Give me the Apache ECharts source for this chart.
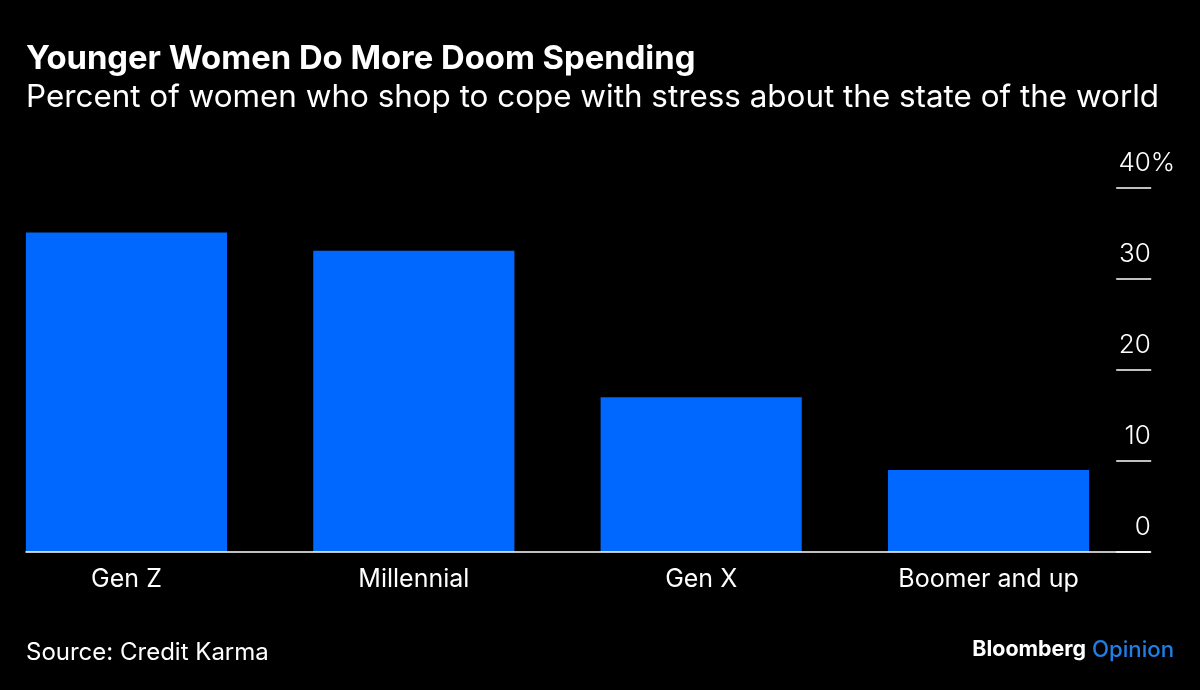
<!DOCTYPE html>
<html><head><meta charset="utf-8">
<style>html,body{margin:0;padding:0;background:#000}#c{width:1200px;height:690px}</style>
<script src="https://cdn.jsdelivr.net/npm/echarts@6/dist/echarts.min.js"></script></head>
<body><div id="c"></div>
<script>
const categories=['Gen Z','Millennial','Gen X','Boomer and up'];
const values=[35.1,33.1,17,9];
const tickValues=[0,10,20,30,40];
const titleText='Younger Women Do More Doom Spending';
const subtitleText='Percent of women who shop to cope with stress about the state of the world';
const sourceText='Source: Credit Karma';
const font='Inter, "Liberation Sans", sans-serif';
const chart=echarts.init(document.getElementById('c'),null,{renderer:'canvas'});
chart.setOption({
 backgroundColor:'#000',animation:false,
 grid:[
  {left:-17.2,width:1149.4,top:188,bottom:138,outerBoundsMode:'none'},
  {left:26,right:50,top:188,bottom:138}
 ],
 xAxis:[
  {type:'category',data:categories,gridIndex:0,axisLine:{show:false},axisTick:{show:false},
   axisLabel:{color:'#fff',fontFamily:font,fontSize:25,margin:15}},
  {type:'value',gridIndex:1,min:0,max:1,position:'bottom',splitLine:{show:false},axisTick:{show:false},axisLabel:{show:false},
   axisLine:{show:true,onZero:false,lineStyle:{color:'#fff',width:1.5}},z:10}
 ],
 yAxis:[
  {type:'value',gridIndex:0,position:'right',offset:19,min:0,max:40,interval:10,
   axisLine:{show:false},splitLine:{show:false},
   axisTick:{show:true,inside:true,length:35,lineStyle:{color:'#fff',width:1.5}},
   axisLabel:{show:true,inside:true,margin:-24,color:'#fff',fontFamily:font,fontSize:26,fontWeight:300,
    align:'right',verticalAlign:'bottom',lineHeight:30,padding:[0,0,10,0],
    formatter:v=>v===tickValues[4]?v+'%':v+'{h|%}',
    rich:{h:{color:'rgba(0,0,0,0)',fontFamily:font,fontSize:26,fontWeight:300}}}},
  {type:'value',gridIndex:1,min:0,max:1,show:false}
 ],
 series:[
  {type:'bar',xAxisIndex:0,yAxisIndex:0,data:values,barWidth:'70%',itemStyle:{color:'#0068ff'}}
 ],
 graphic:[
  {type:'text',left:26,top:43,z:20,style:{text:titleText,fill:'#fff',font:'700 32.8px '+font}},
  {type:'text',left:26,top:82,z:20,style:{text:subtitleText,fill:'#fff',font:'400 31.4px '+font}},
  {type:'text',left:26,top:641,z:20,style:{text:sourceText,fill:'#fff',font:'400 24px '+font}},
  {type:'text',right:114,top:639,z:20,style:{text:'Bloomberg',fill:'#fff',font:'700 21.4px '+font}},
  {type:'text',right:26,top:639,z:20,style:{text:'Opinion',fill:'#1f7fe6',font:'500 22.2px '+font}}
 ]
});
</script></body></html>
